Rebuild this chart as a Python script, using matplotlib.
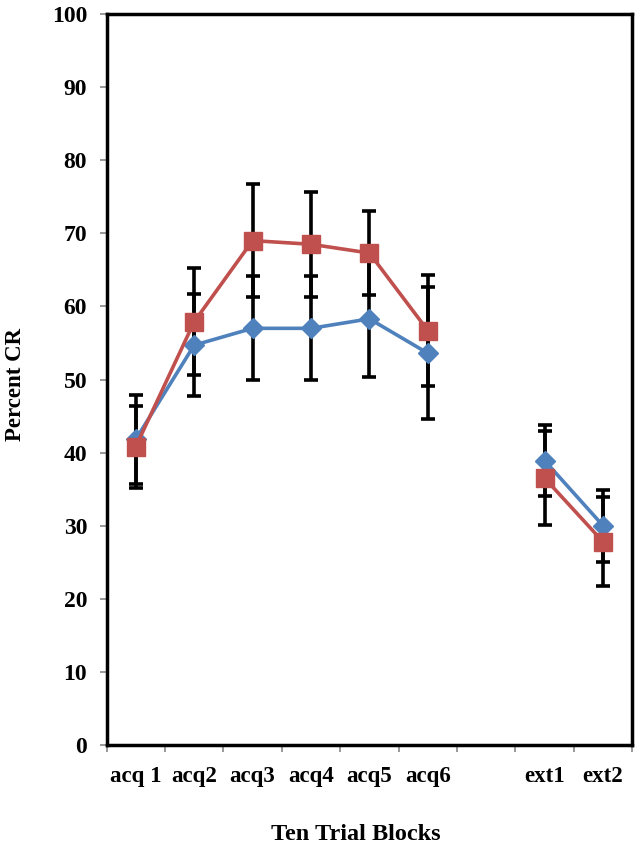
import numpy as np
import matplotlib
matplotlib.use("Agg")
import matplotlib.pyplot as plt

categories = ["acq 1", "acq2", "acq3", "acq4", "acq5", "acq6", "", "ext1", "ext2"]
blue_vals = [41.8, 54.7, 57.0, 57.0, 58.3, 53.6, np.nan, 38.9, 30.0]
blue_err = [6.1, 7.0, 7.1, 7.1, 8.0, 9.0, np.nan, 4.9, 4.9]
red_vals = [40.8, 57.9, 69.0, 68.5, 67.3, 56.7, np.nan, 36.5, 27.8]
red_err = [5.6, 7.3, 7.7, 7.2, 5.8, 7.6, np.nan, 6.4, 6.1]
y_ticks = [0, 10, 20, 30, 40, 50, 60, 70, 80, 90, 100]

BLUE = "#4F81BD"
RED = "#C0504D"

plt.rcParams['font.family'] = ['Liberation Serif', 'DejaVu Serif']
fig = plt.figure(figsize=(6.38, 8.49), dpi=100)
ax = fig.add_axes([0.167, 0.1225, 0.824, 0.861])

x = np.arange(len(categories))
for vals, err in [(blue_vals, blue_err), (red_vals, red_err)]:
    ax.errorbar(x, vals, yerr=err, fmt='none', ecolor='black', elinewidth=2.6,
                capsize=5, capthick=2.6, zorder=2)

ax.plot(x, blue_vals, color=BLUE, lw=2.6, marker='D', markersize=10,
        markerfacecolor=BLUE, markeredgecolor=BLUE, zorder=3)
ax.plot(x, red_vals, color=RED, lw=2.6, marker='s', markersize=13,
        markerfacecolor=RED, markeredgecolor=RED, zorder=4)

ax.set_xlim(-0.5, len(categories) - 0.5)
ax.set_ylim(0, 100)
ax.set_yticks(y_ticks)
ax.set_yticklabels([str(v) for v in y_ticks], fontsize=17, fontweight='bold')
ax.set_xticks(x)
ax.set_xticklabels(categories, fontsize=16.5, fontweight='bold')
ax.set_xticks(np.arange(-0.5, len(categories)), minor=True)
ax.tick_params(axis='x', which='major', length=0, pad=15)
ax.tick_params(axis='x', which='minor', length=5, width=1.2, color='#888888')
ax.tick_params(axis='y', which='major', length=5, width=1.2, color='#888888', pad=9)

for s in ax.spines.values():
    s.set_linewidth(2.5)
    s.set_color('black')

fig.text(0.024, 0.547, "Percent CR", rotation=90, fontsize=16.5, fontweight='bold',
         ha='center', va='center')
fig.text(0.558, 0.0165, "Ten Trial Blocks", fontsize=17.5, fontweight='bold',
         ha='center', va='center')

fig.savefig("out.png", dpi=100)
